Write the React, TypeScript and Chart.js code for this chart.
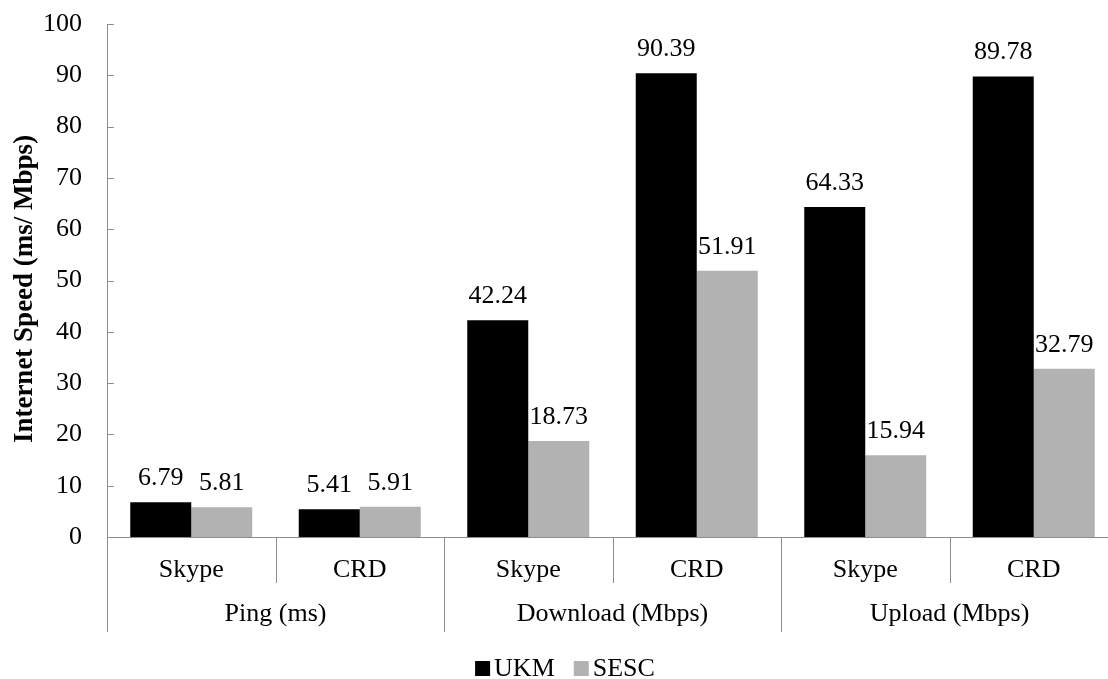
import React, { useEffect, useRef } from "react";
import { Chart, registerables } from "chart.js";

Chart.register(...registerables);

const categories = ["Skype", "CRD", "Skype", "CRD", "Skype", "CRD"];
const groups = ["Ping (ms)", "Download (Mbps)", "Upload (Mbps)"];
const ukm = [6.79, 5.41, 42.24, 90.39, 64.33, 89.78];
const sesc = [5.81, 5.91, 18.73, 51.91, 15.94, 32.79];
const seriesNames = ["UKM", "SESC"];
const yTitle = "Internet Speed (ms/ Mbps)";

const FONT = "'Liberation Serif', 'Times New Roman', serif";
const AXIS_COLOR = "#8c8c8c";

const decorPlugin = {
  id: "decor",
  afterDraw(chart: any) {
    const { ctx, chartArea } = chart;
    const x = chart.scales.x;
    const y = chart.scales.y;
    ctx.save();
    // y tick marks (inside)
    ctx.strokeStyle = AXIS_COLOR;
    ctx.lineWidth = 1;
    y.ticks.forEach((t: any) => {
      const py = Math.round(y.getPixelForValue(t.value)) + 0.5;
      ctx.beginPath();
      ctx.moveTo(chartArea.left, py);
      ctx.lineTo(chartArea.left + 7, py);
      ctx.stroke();
    });
    // x category separators
    const n = categories.length;
    const step = (chartArea.right - chartArea.left) / n;
    for (let i = 0; i <= n; i++) {
      const px = Math.round(chartArea.left + i * step) + 0.5;
      const long = i % 2 === 0;
      ctx.beginPath();
      ctx.moveTo(px, chartArea.bottom);
      ctx.lineTo(px, chartArea.bottom + (long ? 95 : 46));
      ctx.stroke();
    }
    // x labels
    ctx.fillStyle = "#000";
    ctx.font = `26px ${FONT}`;
    ctx.textAlign = "center";
    ctx.textBaseline = "alphabetic";
    categories.forEach((c, i) => {
      const cx = x.getPixelForValue(i);
      ctx.fillText(c, cx, chartArea.bottom + 40);
    });
    groups.forEach((g, gi) => {
      const cx = (x.getPixelForValue(gi * 2) + x.getPixelForValue(gi * 2 + 1)) / 2;
      ctx.fillText(g, cx, chartArea.bottom + 84);
    });
    // data labels
    chart.data.datasets.forEach((ds: any, di: number) => {
      const meta = chart.getDatasetMeta(di);
      meta.data.forEach((bar: any, i: number) => {
        ctx.fillText(Number(ds.data[i]).toFixed(2), bar.x, bar.y - 17);
      });
    });
    // y title
    ctx.save();
    ctx.font = `bold 27px ${FONT}`;
    ctx.translate(32, 289);
    ctx.rotate(-Math.PI / 2);
    ctx.textAlign = "center";
    ctx.textBaseline = "alphabetic";
    ctx.fillText(yTitle, 0, 0);
    ctx.restore();
    // legend
    ctx.font = `26px ${FONT}`;
    ctx.textAlign = "left";
    const box = 15;
    const gapBox = 4;
    const gapItem = 19;
    const items = chart.data.datasets.map((ds: any) => ({
      label: ds.label,
      color: ds.backgroundColor,
      w: ctx.measureText(ds.label).width,
    }));
    let total = 0;
    items.forEach((it: any, i: number) => {
      total += box + gapBox + it.w + (i < items.length - 1 ? gapItem : 0);
    });
    let lx = chart.width / 2 - total / 2;
    const baseline = 676;
    items.forEach((it: any) => {
      ctx.fillStyle = it.color;
      ctx.fillRect(lx, baseline - 15, box, box);
      lx += box + gapBox;
      ctx.fillStyle = "#000";
      ctx.fillText(it.label, lx, baseline);
      lx += it.w + gapItem;
    });
    ctx.restore();
  },
};

export default function App() {
  const ref = useRef<HTMLCanvasElement | null>(null);
  useEffect(() => {
    if (!ref.current) return;
    const chart = new Chart(ref.current, {
      type: "bar",
      data: {
        labels: categories,
        datasets: [
          { label: seriesNames[0], data: ukm, backgroundColor: "#000000", borderWidth: 0 },
          { label: seriesNames[1], data: sesc, backgroundColor: "#b2b2b2", borderWidth: 0 },
        ],
      },
      options: {
        responsive: false,
        animation: false,
        devicePixelRatio: 1,
        layout: { padding: { left: 0, top: 24, right: 12, bottom: 42 } },
        datasets: { bar: { categoryPercentage: 0.724, barPercentage: 1 } },
        plugins: { legend: { display: false }, tooltip: { enabled: false } },
        scales: {
          x: {
            grid: { display: false },
            border: { display: true, color: AXIS_COLOR, width: 1 },
            ticks: { display: false },
            afterFit: (s: any) => { s.height = 100; },
          },
          y: {
            min: 0,
            max: 100,
            grid: { display: false },
            border: { display: true, color: AXIS_COLOR, width: 1 },
            ticks: {
              stepSize: 10,
              padding: 17,
              color: "#000",
              font: { family: FONT, size: 26 },
            },
            afterFit: (s: any) => {
              s.width = 107;
              s.paddingTop = 0;
              s.paddingBottom = 0;
            },
          },
        },
      },
      plugins: [decorPlugin],
    });
    return () => chart.destroy();
  }, []);
  return (
    <div style={{ position: "absolute", left: 0, top: 0, width: 1108, height: 679, overflow: "hidden", background: "#fff" }}>
      <canvas ref={ref} width={1130} height={679} style={{ width: 1130, height: 679, display: "block" }} />
    </div>
  );
}
